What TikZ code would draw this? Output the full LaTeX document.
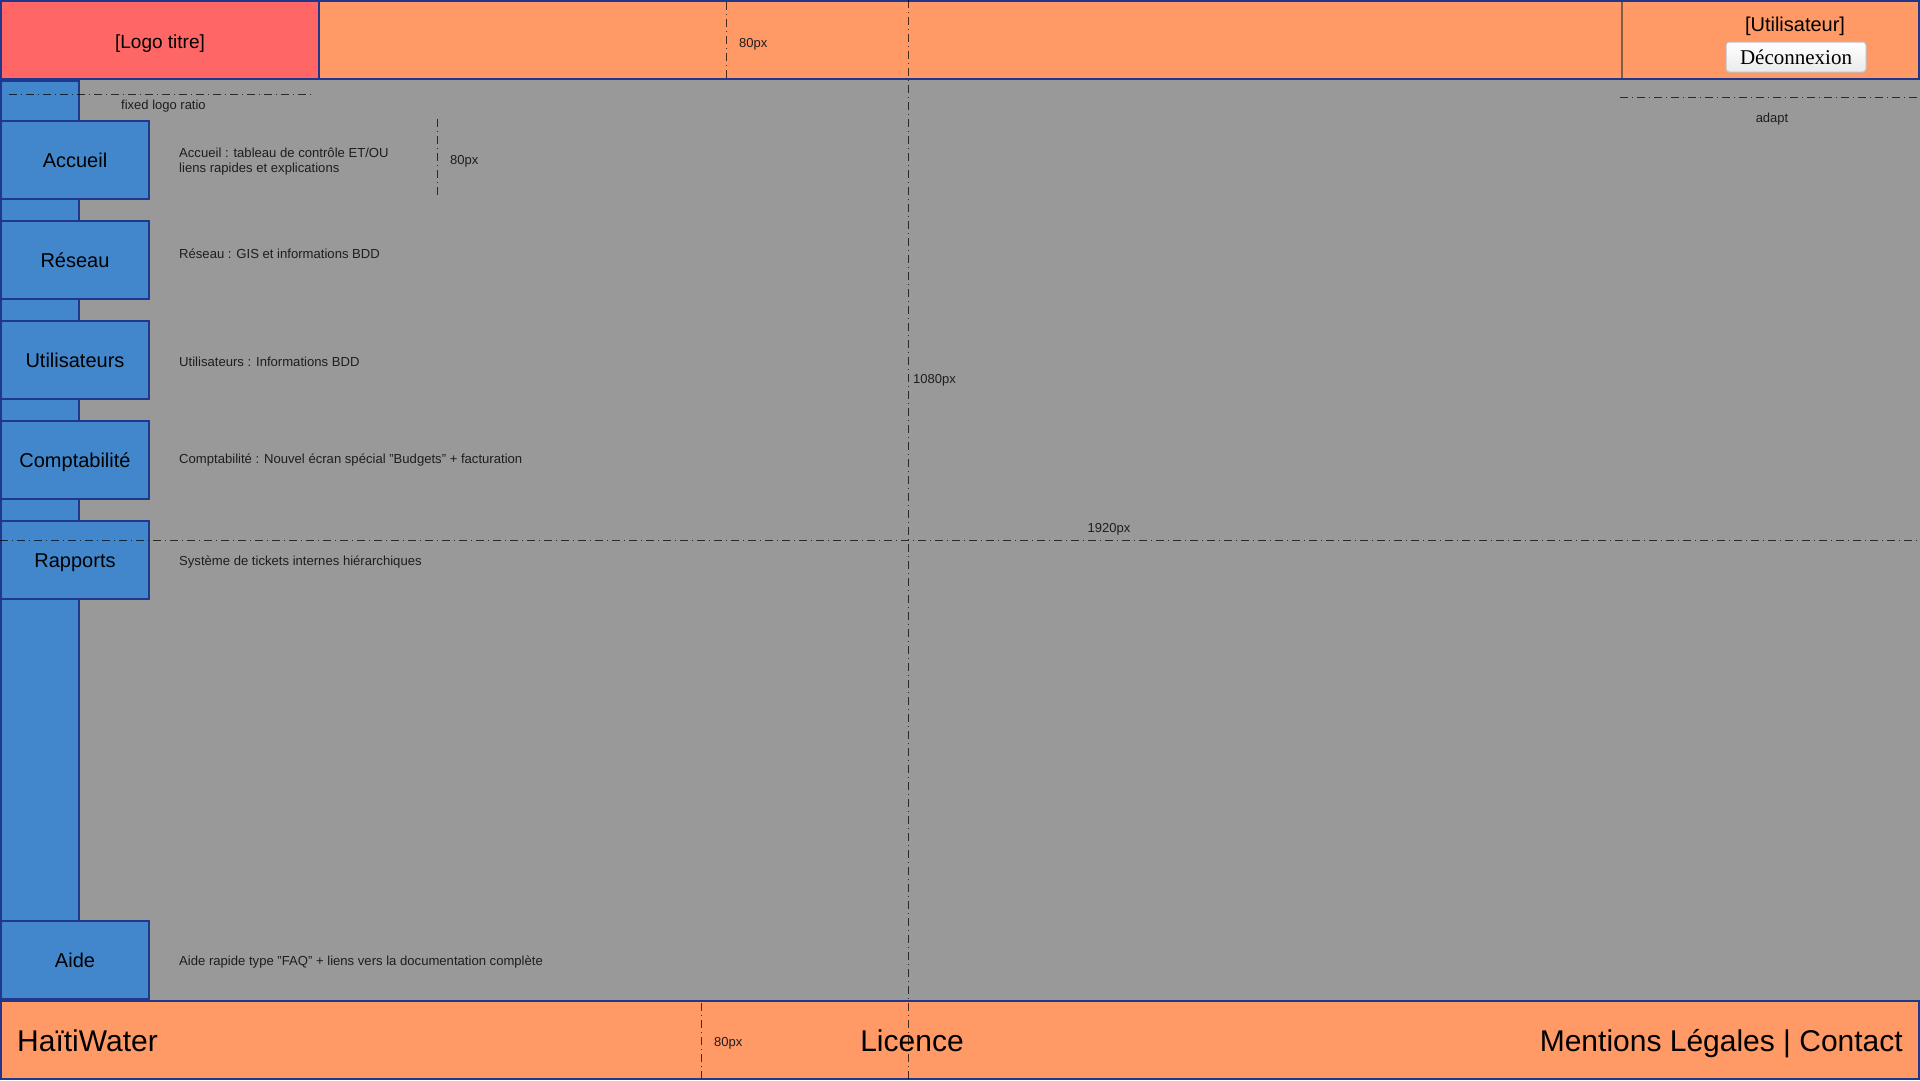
\documentclass[tikz,border=0pt]{standalone}
\usepackage{fontspec}
\setmainfont{Liberation Sans}
\newfontfamily\btnserif{Liberation Serif}
\definecolor{bggray}{HTML}{999999}
\definecolor{hdrorange}{HTML}{FF9966}
\definecolor{logored}{HTML}{FF6666}
\definecolor{menublue}{HTML}{4287CC}
\definecolor{navy}{HTML}{1F388C}
\definecolor{divbrown}{HTML}{8A5A3E}
\definecolor{txtdark}{HTML}{1E1E1E}
\tikzset{
  bar/.style={draw=navy, line width=2pt},
  menubtn/.style={draw=navy, line width=2pt, fill=menublue, minimum width=148pt, minimum height=78pt, inner sep=0pt, text height=16pt, text depth=2pt, font=\fontsize{20}{24}\selectfont, text=black},
  desc/.style={anchor=west, inner sep=0pt, font=\fontsize{13.1}{15}\selectfont, text=txtdark, align=left},
  measure/.style={draw=black, draw opacity=0.72, line width=1pt, dash pattern=on 8pt off 4pt on 1pt off 4pt},
  mlabel/.style={inner sep=0pt, font=\fontsize{13}{15}\selectfont, text=txtdark},
  foot/.style={inner sep=0pt, font=\fontsize{30}{36}\selectfont, text=black},
}
\begin{document}
\begin{tikzpicture}[x=1pt, y=-1pt]
\useasboundingbox (0,0) rectangle (1920,1080);
% background
\fill[bggray] (0,0) rectangle (1920,1080);
% sidebar
\draw[bar, fill=menublue] (1,81) rectangle (79,999);
% menu buttons
\node[menubtn] (accueil) at (75,160) {Accueil};
\node[menubtn] (reseau) at (75,260) {Réseau};
\node[menubtn] (utilisateurs) at (75,360) {Utilisateurs};
\node[menubtn] (compta) at (75,460) {Comptabilité};
\node[menubtn] (rapports) at (75,560) {Rapports};
\node[menubtn] (aide) at (75,960) {Aide};
% descriptions
\node[desc] (daccueil) at (179,161.5) {Accueil : tableau de contrôle ET/OU\\liens rapides et explications};
\node[desc] (dreseau) at (179,253.5) {Réseau : GIS et informations BDD};
\node[desc] (dutil) at (179,361.5) {Utilisateurs : Informations BDD};
\node[desc] (dcompta) at (179,460.5) {Comptabilité : Nouvel écran spécial "Budgets" + facturation};
\node[desc] (drapports) at (179,562.5) {Système de tickets internes hiérarchiques};
\node[desc] (daide) at (179,962.5) {Aide rapide type "FAQ" + liens vers la documentation complète};
% header
\draw[bar, fill=hdrorange] (1,1) rectangle (1919,79);
\draw[bar, fill=logored] (1,1) rectangle (319,79);
\node[inner sep=0pt, anchor=base, font=\fontsize{19}{23}\selectfont] (logo) at (160,48) {[Logo titre]};
\coordinate (divtop) at (1622,2);
\coordinate (divbot) at (1622,78);
\draw[divbrown, line width=1.5pt] (divtop) -- (divbot);
\node[inner sep=0pt, anchor=base, font=\fontsize{20}{24}\selectfont] (user) at (1795,31) {[Utilisateur]};
\node[draw=black!25, line width=1pt, rounded corners=3pt, top color=white, bottom color=black!8, minimum width=140pt, minimum height=30pt, inner sep=0pt, font=\btnserif\fontsize{21}{25}\selectfont] (logout) at (1796,57) {Déconnexion};
% footer
\draw[bar, fill=hdrorange] (1,1001) rectangle (1919,1079);
\node[foot, anchor=base west] (haiti) at (17,1051) {HaïtiWater};
\node[foot, anchor=base] (licence) at (912,1051) {Licence};
\node[foot, anchor=base east] (mentions) at (1903,1051) {Mentions Légales | Contact};
% measurement lines
\coordinate (vtop) at (908,0);
\coordinate (vbot) at (908,1080);
\draw[measure] (vtop) -- (vbot);
\coordinate (hleft) at (0,540);
\coordinate (hright) at (1920,540);
\draw[measure] (hleft) -- (hright);
\coordinate (hdra) at (726,2);
\coordinate (hdrb) at (726,79);
\draw[measure] (hdra) -- (hdrb);
\coordinate (acca) at (437,119);
\coordinate (accb) at (437,195);
\draw[measure] (acca) -- (accb);
\coordinate (fta) at (701,1003);
\coordinate (ftb) at (701,1078);
\draw[measure] (fta) -- (ftb);
\coordinate (fla) at (9,94);
\coordinate (flb) at (312,94);
\draw[measure] (fla) -- (flb);
\coordinate (ada) at (1620,97);
\coordinate (adb) at (1920,97);
\draw[measure] (ada) -- (adb);
% measurement labels
\node[mlabel, anchor=west] (l80h) at (739,44) {80px};
\node[mlabel, anchor=west] (l80a) at (450,161) {80px};
\node[mlabel, anchor=west] (l80f) at (714,1043) {80px};
\node[mlabel, anchor=west] (l1080) at (913,380) {1080px};
\node[mlabel] (l1920) at (1109,529) {1920px};
\node[mlabel, anchor=west] (lfixed) at (121,106) {fixed logo ratio};
\node[mlabel] (ladapt) at (1772,119) {adapt};
\end{tikzpicture}
\end{document}
